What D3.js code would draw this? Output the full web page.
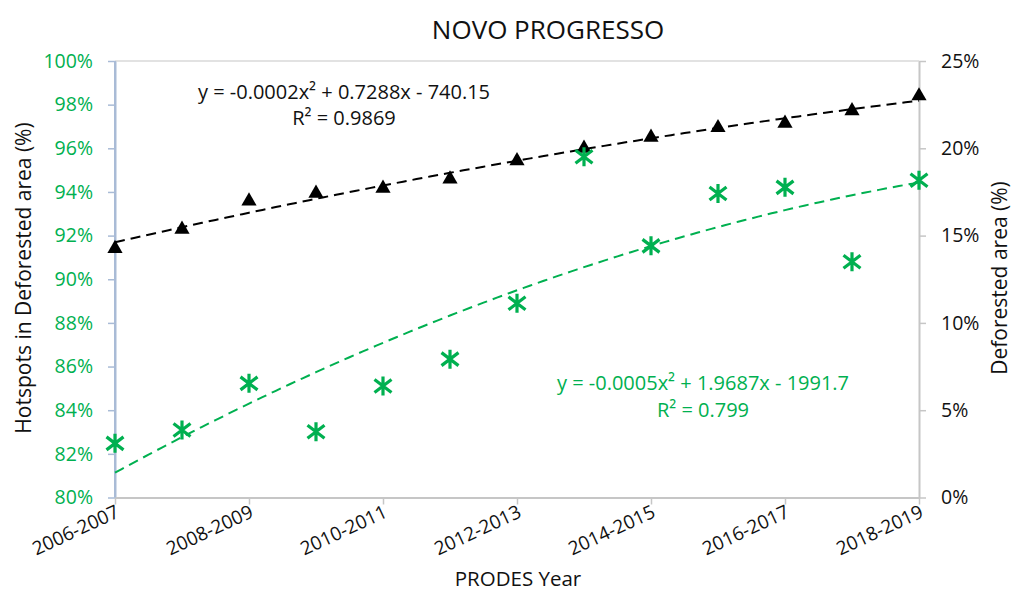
<!DOCTYPE html>
<html>
<head>
<meta charset="utf-8">
<script src="https://cdn.jsdelivr.net/npm/d3@7/dist/d3.min.js"></script>
<style>
  html, body { margin: 0; padding: 0; background: #fff; }
  svg { display: block; font-family: "Open Sans", "Noto Sans", sans-serif; }
</style>
</head>
<body>
<svg id="chart" width="1014" height="592"></svg>
<script>
// ---- data ----
const categories = ["2006-2007","2007-2008","2008-2009","2009-2010","2010-2011","2011-2012","2012-2013",
                    "2013-2014","2014-2015","2015-2016","2016-2017","2017-2018","2018-2019"];
const labeledCategories = ["2006-2007","2008-2009","2010-2011","2012-2013","2014-2015","2016-2017","2018-2019"];
// Hotspots in deforested area (left axis)
const hotspots = [0.8248, 0.8309, 0.8523, 0.8301, 0.8511, 0.8634, 0.8890,
                  0.9561, 0.9153, 0.9393, 0.9421, 0.9080, 0.9454];
// Deforested area (right axis)
const deforested = [0.1426, 0.1536, 0.1698, 0.1742, 0.1771, 0.1824, 0.1928,
                    0.2000, 0.2063, 0.2118, 0.2143, 0.2215, 0.2300];
const leftTicks = [0.80,0.82,0.84,0.86,0.88,0.90,0.92,0.94,0.96,0.98,1.00];
const rightTicks = [0,0.05,0.10,0.15,0.20,0.25];
const eqBlack = ["y = -0.0002x² + 0.7288x - 740.15", "R² = 0.9869"];
const eqGreen = ["y = -0.0005x² + 1.9687x - 1991.7", "R² = 0.799"];

const GREEN = "#00B050";
const svg = d3.select("#chart");
const L = 115, R = 919, T = 61, B = 497.5;

const x = d3.scalePoint().domain(categories).range([L, R]).padding(0);
const xi = d3.scaleLinear().domain([0, categories.length - 1]).range([L, R]);
const yL = d3.scaleLinear().domain([0.80, 1.00]).range([B, T]);
const yR = d3.scaleLinear().domain([0, 0.25]).range([B, T]);

// quadratic least squares fit
function quadFit(vals) {
  let s = [0,0,0,0,0], t = [0,0,0];
  vals.forEach((v, i) => {
    let p = 1;
    for (let k = 0; k < 5; k++) { s[k] += p; if (k < 3) t[k] += p * v; p *= i; }
  });
  const A = [[s[0],s[1],s[2],t[0]],[s[1],s[2],s[3],t[1]],[s[2],s[3],s[4],t[2]]];
  for (let c = 0; c < 3; c++) {
    for (let r = c + 1; r < 3; r++) {
      const f = A[r][c] / A[c][c];
      for (let k = c; k < 4; k++) A[r][k] -= f * A[c][k];
    }
  }
  const coef = [0,0,0];
  for (let r = 2; r >= 0; r--) {
    let v = A[r][3];
    for (let k = r + 1; k < 3; k++) v -= A[r][k] * coef[k];
    coef[r] = v / A[r][r];
  }
  return t2 => coef[0] + coef[1] * t2 + coef[2] * t2 * t2;
}

// plot border (top gray)
svg.append("line").attr("x1", L).attr("x2", R).attr("y1", T).attr("y2", T)
  .attr("stroke", "#d9d9d9").attr("stroke-width", 1.5);

// axes
const gL = svg.append("g").attr("transform", `translate(${L},0)`)
  .call(d3.axisLeft(yL).tickValues(leftTicks).tickFormat(d3.format(".0%")).tickSize(7).tickSizeOuter(0));
gL.select(".domain").attr("stroke", "#a9bbd6").attr("stroke-width", 2);
gL.selectAll(".tick line").attr("stroke", "#a9bbd6").attr("stroke-width", 1.5);
gL.selectAll(".tick text").attr("fill", GREEN).attr("font-size", 19.5).attr("x", -22)
  .attr("font-family", "Open Sans");

const gR = svg.append("g").attr("transform", `translate(${R},0)`)
  .call(d3.axisRight(yR).tickValues(rightTicks).tickFormat(d3.format(".0%")).tickSize(7).tickSizeOuter(0));
gR.select(".domain").attr("stroke", "#c6c6c6").attr("stroke-width", 2);
gR.selectAll(".tick line").attr("stroke", "#c6c6c6").attr("stroke-width", 1.5);
gR.selectAll(".tick text").attr("fill", "#111").attr("font-size", 19.5).attr("x", 22)
  .attr("font-family", "Open Sans");

const gX = svg.append("g").attr("transform", `translate(0,${B})`)
  .call(d3.axisBottom(x).tickValues(labeledCategories).tickSize(7).tickSizeOuter(0));
gX.select(".domain").attr("stroke", "#c6c6c6").attr("stroke-width", 2);
gX.selectAll(".tick line").attr("stroke", "#c6c6c6").attr("stroke-width", 1.5);
gX.selectAll(".tick text").attr("fill", "#111").attr("font-size", 19)
  .attr("font-family", "Open Sans")
  .attr("text-anchor", "end").attr("dy", 0).attr("y", 0)
  .attr("transform", "translate(5,19) rotate(-25)");

// re-draw left axis line on top of bottom domain
svg.append("line").attr("x1", L).attr("x2", L).attr("y1", T).attr("y2", B)
  .attr("stroke", "#a9bbd6").attr("stroke-width", 2);

// trendlines
const samples = d3.range(0, categories.length - 1 + 0.001, 0.1);
const fitB = quadFit(deforested);
const fitG = quadFit(hotspots);
svg.append("path")
  .attr("d", d3.line().x(t => xi(t)).y(t => yR(fitB(t)))(samples))
  .attr("fill", "none").attr("stroke", "#000").attr("stroke-width", 2)
  .attr("stroke-dasharray", "10,6");
svg.append("path")
  .attr("d", d3.line().x(t => xi(t)).y(t => yL(fitG(t)))(samples))
  .attr("fill", "none").attr("stroke", GREEN).attr("stroke-width", 2)
  .attr("stroke-dasharray", "10,6");

// triangle markers (deforested, right axis)
const tri = d3.symbol().type(d3.symbolTriangle).size(100);
svg.append("g").selectAll("path").data(deforested).join("path")
  .attr("d", tri)
  .attr("transform", (d, i) => `translate(${x(categories[i])},${yR(d)})`)
  .attr("fill", "#000");

// asterisk markers (hotspots, left axis)
const star = "M0,-9.5L0,9.5M-8.5,-6.5L8.5,6.5M-8.5,6.5L8.5,-6.5";
svg.append("g").selectAll("path").data(hotspots).join("path")
  .attr("d", star)
  .attr("transform", (d, i) => `translate(${x(categories[i])},${yL(d)})`)
  .attr("fill", "none").attr("stroke", GREEN).attr("stroke-width", 3.2);

// title
svg.append("text").attr("x", 548).attr("y", 39).attr("text-anchor", "middle")
  .attr("font-size", 26).attr("fill", "#111").text("NOVO PROGRESSO");

// axis titles
svg.append("text").attr("transform", "translate(31,278) rotate(-90)").attr("text-anchor", "middle")
  .attr("font-size", 21).attr("fill", "#111").text("Hotspots in Deforested area (%)");
svg.append("text").attr("transform", "translate(1007,278) rotate(-90)").attr("text-anchor", "middle")
  .attr("font-size", 21).attr("fill", "#111").text("Deforested area (%)");
svg.append("text").attr("x", 518).attr("y", 586).attr("text-anchor", "middle")
  .attr("font-size", 20.5).attr("fill", "#111").text("PRODES Year");

// equations
svg.append("g").selectAll("text").data(eqBlack).join("text")
  .attr("x", 344).attr("y", (d, i) => 99 + i * 26).attr("text-anchor", "middle")
  .attr("font-size", 20).attr("fill", "#111").text(d => d);
svg.append("g").selectAll("text").data(eqGreen).join("text")
  .attr("x", 703).attr("y", (d, i) => 390 + i * 27).attr("text-anchor", "middle")
  .attr("font-size", 20).attr("fill", GREEN).text(d => d);
</script>
</body>
</html>
